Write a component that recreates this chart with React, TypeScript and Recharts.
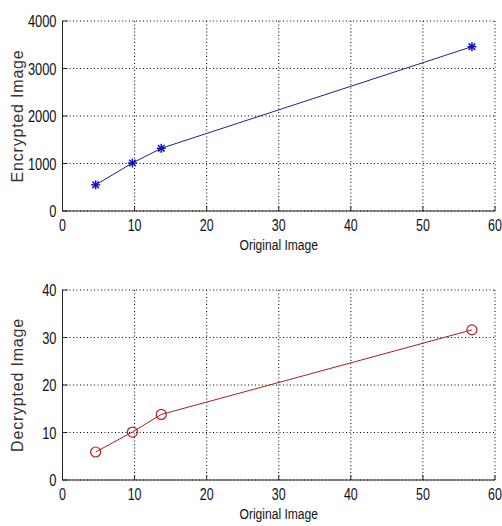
import React from "react";
import { LineChart, Line, XAxis, YAxis, CartesianGrid } from "recharts";

const originalSize = [4.6, 9.7, 13.7, 56.8];
const encryptedSize = [550, 1010, 1320, 3460];
const decryptedSize = [5.9, 10.1, 13.8, 31.6];
const xTicks = [0, 10, 20, 30, 40, 50, 60];
const encTicks = [0, 1000, 2000, 3000, 4000];
const decTicks = [0, 10, 20, 30, 40];

const encData = originalSize.map((x, i) => ({ x, y: encryptedSize[i] }));
const decData = originalSize.map((x, i) => ({ x, y: decryptedSize[i] }));

const TICK_FONT = "'Liberation Sans', Arial, sans-serif";
const LABEL_FONT = "'Liberation Sans', Arial, sans-serif";
const AX = "#222";
const NARROW = 0.78;

const BottomTick = (props: any) => {
  const { x, y, payload } = props;
  return (
    <g>
      <line x1={x} y1={y} x2={x} y2={y - 5} stroke={AX} strokeWidth={1} />
      <text transform={`translate(${x} ${y + 20}) scale(${NARROW} 1)`} textAnchor="middle" fontFamily={TICK_FONT} fontSize={16} fill="#111">
        {payload.value}
      </text>
    </g>
  );
};
const LeftTick = (props: any) => {
  const { x, y, payload } = props;
  return (
    <g>
      <line x1={x} y1={y} x2={x + 5} y2={y} stroke={AX} strokeWidth={1} />
      <text transform={`translate(${x - 6} ${y + 6}) scale(${NARROW} 1)`} textAnchor="end" fontFamily={TICK_FONT} fontSize={16.5} fill="#111">
        {payload.value}
      </text>
    </g>
  );
};
const TopTick = (props: any) => {
  const { x, y } = props;
  return <line x1={x} y1={y} x2={x} y2={y + 5} stroke={AX} strokeWidth={1} />;
};
const RightTick = (props: any) => {
  const { x, y } = props;
  return <line x1={x} y1={y} x2={x - 5} y2={y} stroke={AX} strokeWidth={1} />;
};

const StarDot = (props: any) => {
  const { cx, cy, index } = props;
  const s = 4.5;
  const d = 3.3;
  const c = "#1010c0";
  return (
    <g key={`s${index}`}>
      <line x1={cx - s} y1={cy} x2={cx + s} y2={cy} stroke={c} strokeWidth={1.5} />
      <line x1={cx} y1={cy - s} x2={cx} y2={cy + s} stroke={c} strokeWidth={1.5} />
      <line x1={cx - d} y1={cy - d} x2={cx + d} y2={cy + d} stroke={c} strokeWidth={1.5} />
      <line x1={cx - d} y1={cy + d} x2={cx + d} y2={cy - d} stroke={c} strokeWidth={1.5} />
    </g>
  );
};
const CircleDot = (props: any) => {
  const { cx, cy, index } = props;
  return <circle key={`c${index}`} cx={cx} cy={cy} r={5} fill="none" stroke="#c01818" strokeWidth={1.2} />;
};

const xLabel = (props: any) => {
  const { viewBox } = props;
  const cx = viewBox.x + viewBox.width / 2;
  return (
    <text transform={`translate(${cx} ${viewBox.y + 39}) scale(${NARROW} 1)`} textAnchor="middle" fontFamily={TICK_FONT} fontSize={15.5} fill="#111">
      Original Image
    </text>
  );
};
const makeYLabel = (text: string) => (props: any) => {
  const { viewBox } = props;
  const cx = 17;
  const cy = viewBox.y + viewBox.height / 2;
  return (
    <text x={cx} y={cy} transform={`rotate(-90 ${cx} ${cy})`} textAnchor="middle" dominantBaseline="central" fontFamily={LABEL_FONT} fontSize={16} letterSpacing={0.8} fill="#333">
      {text}
    </text>
  );
};

function Panel(props: { data: any[]; ticks: number[]; max: number; top: number; height: number; label: string; color: string; dot: any }) {
  const { data, ticks, max, top, height, label, color, dot } = props;
  return (
    <LineChart width={502} height={height} data={data} margin={{ top, right: 7, bottom: 0, left: 0 }}>
      <CartesianGrid stroke="#000" strokeDasharray="1 2.5" strokeWidth={1} />
      <XAxis dataKey="x" type="number" domain={[0, 60]} ticks={xTicks} interval={0} height={height - top - 190} tickSize={0} tickMargin={0} tickLine={false} axisLine={{ stroke: AX }} tick={<BottomTick />} label={xLabel} />
      <XAxis xAxisId="top" orientation="top" dataKey="x" type="number" domain={[0, 60]} ticks={xTicks} interval={0} height={0} tickSize={0} tickLine={false} axisLine={{ stroke: AX }} tick={<TopTick />} />
      <YAxis type="number" domain={[0, max]} ticks={ticks} interval={0} width={62.5} tickSize={0} tickMargin={0} tickLine={false} axisLine={{ stroke: AX }} tick={<LeftTick />} label={makeYLabel(label)} />
      <YAxis yAxisId="right" orientation="right" type="number" domain={[0, max]} ticks={ticks} interval={0} width={0} tickSize={0} tickLine={false} axisLine={{ stroke: AX }} tick={<RightTick />} />
      <Line dataKey="y" type="linear" stroke={color} strokeWidth={1} dot={dot} activeDot={false} isAnimationActive={false} />
    </LineChart>
  );
}

export default function App() {
  return (
    <div style={{ position: "absolute", left: 0, top: 0, width: 502, height: 526, background: "#fff" }}>
      <Panel data={encData} ticks={encTicks} max={4000} top={21} height={263} label="Encrypted Image" color="#202090" dot={<StarDot />} />
      <Panel data={decData} ticks={decTicks} max={40} top={27} height={263} label="Decrypted Image" color="#a82020" dot={<CircleDot />} />
    </div>
  );
}
